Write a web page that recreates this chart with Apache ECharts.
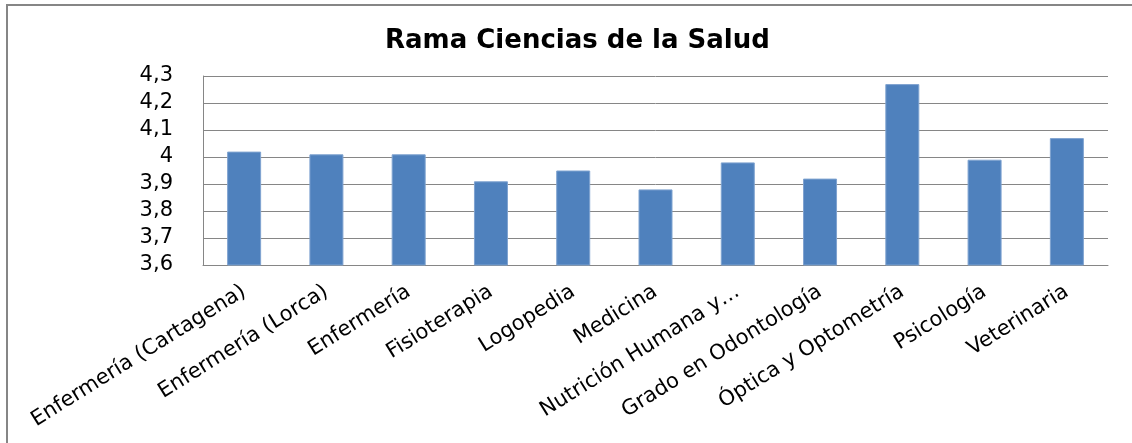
<!DOCTYPE html>
<html>
<head>
<meta charset="utf-8">
<script src="https://cdn.jsdelivr.net/npm/echarts@6/dist/echarts.min.js"></script>
<style>
html,body{margin:0;padding:0;background:#fff;}
#c{width:1132px;height:443px;}
</style>
</head>
<body>
<div id="c"></div>
<script>
const titleText = "Rama Ciencias de la Salud";
const categories = [
  "Enfermería (Cartagena)",
  "Enfermería (Lorca)",
  "Enfermería",
  "Fisioterapia",
  "Logopedia",
  "Medicina",
  "Nutrición Humana y…",
  "Grado en Odontología",
  "Óptica y Optometría",
  "Psicología",
  "Veterinaria"
];
const values = [4.02, 4.01, 4.01, 3.91, 3.95, 3.88, 3.98, 3.92, 4.27, 3.99, 4.07];
const yMin = 3.6, yMax = 4.3, yStep = 0.1;

const chart = echarts.init(document.getElementById('c'), null, {renderer: 'canvas'});
const font = "DejaVu Sans";
chart.setOption({
  animation: false,
  backgroundColor: '#fff',
  title: {
    text: titleText,
    left: 380,
    top: 23,
    textStyle: {fontFamily: font, fontWeight: 'bold', fontSize: 26, color: '#000'}
  },
  graphic: [{
    type: 'rect',
    shape: {x: 7, y: 5, width: 1200, height: 500},
    style: {fill: 'none', stroke: '#868686', lineWidth: 2},
    silent: true
  }],
  grid: {left: 203, right: 24, top: 76, bottom: 178, containLabel: false},
  xAxis: {
    type: 'category',
    data: categories,
    axisLine: {show: true, lineStyle: {color: '#868686', width: 1}},
    axisTick: {show: false},
    axisLabel: {
      interval: 0,
      rotate: 32,
      margin: 25,
      fontFamily: font,
      fontSize: 21,
      color: '#000'
    }
  },
  yAxis: {
    type: 'value',
    min: yMin,
    max: yMax,
    interval: yStep,
    axisLine: {show: true, lineStyle: {color: '#868686', width: 1}},
    axisTick: {show: false},
    splitLine: {show: true, lineStyle: {color: '#868686', width: 1}},
    axisLabel: {
      margin: 30,
      fontFamily: font,
      fontSize: 21,
      color: '#000',
      formatter: v => String(Math.round(v * 10) / 10).replace('.', ',')
    }
  },
  series: [{
    type: 'bar',
    data: values,
    barWidth: 34,
    itemStyle: {color: '#4F81BD', borderColor: '#7FA3D0', borderWidth: 1}
  }]
});
</script>
</body>
</html>
